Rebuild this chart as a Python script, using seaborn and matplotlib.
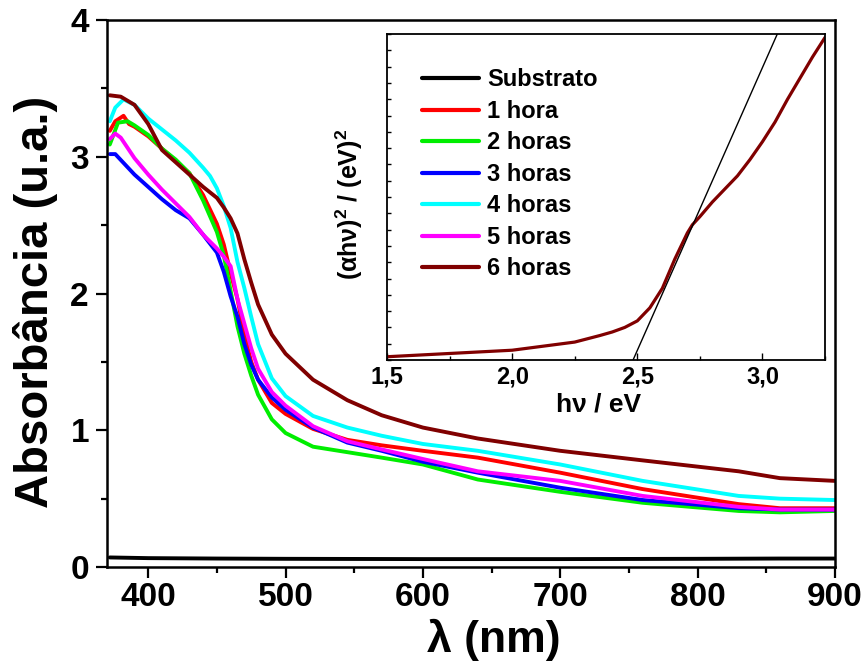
import numpy as np
import pandas as pd
import matplotlib
matplotlib.use("Agg")
import matplotlib.pyplot as plt
from matplotlib.ticker import MultipleLocator, FuncFormatter
import seaborn as sns

# ---------------- data ----------------
wl_sub = [372, 400, 450, 500, 600, 700, 800, 860, 900]
a_sub = [0.07, 0.065, 0.062, 0.06, 0.058, 0.058, 0.06, 0.062, 0.062]

wl_1h = [372, 376, 382, 386, 390, 400, 410, 420, 430, 440, 450, 455, 460, 465, 470, 475, 480, 490, 500, 520, 545, 570, 600, 640, 700, 760, 830, 860, 900]
a_1h = [3.19, 3.26, 3.30, 3.24, 3.22, 3.15, 3.06, 2.97, 2.88, 2.72, 2.51, 2.36, 2.15, 1.96, 1.70, 1.50, 1.37, 1.20, 1.12, 1.01, 0.93, 0.89, 0.85, 0.80, 0.69, 0.57, 0.46, 0.43, 0.43]

wl_2h = [372, 378, 385, 390, 400, 410, 420, 430, 440, 450, 455, 460, 465, 470, 475, 480, 490, 500, 520, 545, 570, 600, 640, 700, 760, 830, 860, 900]
a_2h = [3.09, 3.25, 3.26, 3.23, 3.16, 3.06, 2.98, 2.88, 2.68, 2.45, 2.28, 2.02, 1.76, 1.56, 1.40, 1.26, 1.08, 0.98, 0.88, 0.84, 0.80, 0.75, 0.64, 0.55, 0.47, 0.41, 0.40, 0.41]

wl_3h = [372, 376, 390, 400, 410, 420, 430, 440, 450, 455, 460, 465, 470, 475, 480, 490, 500, 520, 545, 570, 600, 640, 700, 760, 830, 860, 900]
a_3h = [3.02, 3.02, 2.87, 2.78, 2.69, 2.61, 2.55, 2.43, 2.30, 2.16, 1.98, 1.83, 1.63, 1.48, 1.37, 1.24, 1.15, 1.02, 0.91, 0.85, 0.77, 0.69, 0.58, 0.49, 0.43, 0.42, 0.42]

wl_4h = [372, 376, 382, 390, 400, 410, 420, 430, 440, 445, 450, 455, 460, 465, 470, 475, 480, 490, 500, 520, 545, 570, 600, 640, 700, 760, 830, 860, 900]
a_4h = [3.26, 3.36, 3.42, 3.38, 3.28, 3.20, 3.12, 3.03, 2.92, 2.86, 2.77, 2.64, 2.48, 2.23, 2.04, 1.83, 1.63, 1.38, 1.25, 1.105, 1.02, 0.96, 0.90, 0.85, 0.75, 0.63, 0.52, 0.50, 0.49]

wl_5h = [372, 376, 380, 390, 400, 410, 420, 430, 440, 450, 455, 460, 465, 470, 475, 480, 490, 500, 520, 545, 570, 600, 640, 700, 760, 830, 860, 900]
a_5h = [3.13, 3.17, 3.14, 2.99, 2.87, 2.76, 2.66, 2.56, 2.43, 2.33, 2.27, 2.20, 1.96, 1.78, 1.60, 1.45, 1.28, 1.18, 1.03, 0.92, 0.86, 0.79, 0.70, 0.63, 0.52, 0.44, 0.42, 0.42]

wl_6h = [372, 380, 390, 400, 410, 420, 430, 440, 450, 455, 460, 465, 470, 475, 480, 490, 500, 520, 545, 570, 600, 640, 700, 760, 830, 860, 900]
a_6h = [3.45, 3.44, 3.38, 3.24, 3.05, 2.96, 2.87, 2.78, 2.70, 2.63, 2.55, 2.44, 2.25, 2.08, 1.92, 1.70, 1.56, 1.37, 1.22, 1.11, 1.02, 0.94, 0.85, 0.78, 0.70, 0.65, 0.63]

labels = ["Substrato", "1 hora", "2 horas", "3 horas", "4 horas", "5 horas", "6 horas"]
colors = ["#000000", "#ff0000", "#00ee00", "#0000ff", "#00ffff", "#ff00ff", "#800000"]

# inset: Tauc plot for 6 horas
hv = [1.5, 1.75, 2.0, 2.25, 2.3, 2.35, 2.4, 2.45, 2.5, 2.55, 2.6, 2.65, 2.7, 2.72, 2.75, 2.8, 2.85, 2.9, 2.95, 3.0, 3.05, 3.1, 3.15, 3.2, 3.25]
tauc = [1.0, 2.0, 3.0, 5.5, 6.5, 7.5, 8.6, 10.0, 12.0, 16.0, 22.0, 31.0, 39.0, 41.5, 44.0, 48.5, 52.5, 56.5, 61.5, 67.0, 73.0, 80.0, 86.5, 93.0, 99.0]
fit_hv = [2.483, 3.059]
fit_y = [0.0, 100.0]

# ---------------- build long table ----------------
series = [(wl_sub, a_sub), (wl_1h, a_1h), (wl_2h, a_2h), (wl_3h, a_3h),
          (wl_4h, a_4h), (wl_5h, a_5h), (wl_6h, a_6h)]
frames = []
for lab, (w, a) in zip(labels, series):
    frames.append(pd.DataFrame({"wl": w, "A": a, "serie": lab}))
df = pd.concat(frames, ignore_index=True)

sns.set_theme(style="ticks")
plt.rcParams["font.family"] = ["Liberation Sans", "DejaVu Sans"]
plt.rcParams["font.weight"] = "bold"
plt.rcParams["axes.labelweight"] = "bold"
for k in ["text.color", "axes.labelcolor", "xtick.color", "ytick.color", "axes.edgecolor"]:
    plt.rcParams[k] = "black"
plt.rcParams["mathtext.fontset"] = "custom"
plt.rcParams["mathtext.rm"] = "Liberation Sans:bold"
plt.rcParams["mathtext.bf"] = "Liberation Sans:bold"

fig = plt.figure(figsize=(8.66, 6.70), dpi=100)
ax = fig.add_axes([0.1236, 0.1537, 0.8404, 0.8163])

sns.lineplot(data=df, x="wl", y="A", hue="serie", hue_order=labels,
             palette=dict(zip(labels, colors)), sort=False, estimator=None,
             linewidth=2.8, legend=False, ax=ax)

ax.set_xlim(370, 900)
ax.set_ylim(0, 4)
ax.xaxis.set_major_locator(MultipleLocator(100))
ax.xaxis.set_minor_locator(MultipleLocator(50))
ax.yaxis.set_major_locator(MultipleLocator(1))
ax.yaxis.set_minor_locator(MultipleLocator(0.5))
ax.tick_params(which="both", direction="out", width=1.6, top=False, right=False)
ax.tick_params(which="major", length=8, labelsize=24, pad=3)
ax.tick_params(axis="y", which="major", pad=5)
ax.tick_params(which="minor", length=4)
for lab in ax.get_xticklabels() + ax.get_yticklabels():
    lab.set_fontweight("bold")
for s in ax.spines.values():
    s.set_linewidth(1.8)
    s.set_visible(True)
ax.set_xlabel("λ (nm)", fontsize=32, fontweight="bold")
ax.set_ylabel("Absorbância (u.a.)", fontsize=34, fontweight="bold")
ax.xaxis.set_label_coords(0.532, -0.094)
ax.yaxis.set_label_coords(-0.068, 0.485)

# ---------------- inset ----------------
ins = fig.add_axes([0.4469, 0.4627, 0.5058, 0.4863])
sns.lineplot(x=hv, y=tauc, color="#800000", linewidth=2.3, sort=False, ax=ins)
sns.lineplot(x=fit_hv, y=fit_y, color="black", linewidth=1.0, sort=False, ax=ins)
ins.set_xlim(1.5, 3.25)
ins.set_ylim(0, 100)
ins.xaxis.set_major_locator(MultipleLocator(0.5))
ins.xaxis.set_minor_locator(MultipleLocator(0.25))
ins.yaxis.set_major_locator(MultipleLocator(10))
ins.yaxis.set_minor_locator(MultipleLocator(5))
ins.xaxis.set_major_formatter(FuncFormatter(lambda v, p: f"{v:.1f}".replace(".", ",")))
ins.tick_params(which="both", direction="in", width=1.0, top=False, right=False)
ins.tick_params(which="major", length=5, labelsize=17, pad=4)
ins.tick_params(which="minor", length=3)
ins.tick_params(axis="y", which="both", labelleft=False, length=3)
for lab in ins.get_xticklabels():
    lab.set_fontweight("bold")
for s in ins.spines.values():
    s.set_linewidth(1.3)
    s.set_visible(True)
ins.set_xlabel("hν / eV", fontsize=19, fontweight="bold")
ins.set_ylabel(r"(αhν)$^{2}$ / (eV)$^{2}$", fontsize=18, fontweight="bold")
ins.xaxis.set_label_coords(0.482, -0.10)
ins.yaxis.set_label_coords(-0.05, 0.478)

handles = ax.get_lines()[:len(labels)]
leg = ins.legend(handles, labels, loc="upper left", bbox_to_anchor=(0.08, 0.895),
                 frameon=False, fontsize=17, handlelength=2.4, handletextpad=0.35,
                 labelspacing=0.36, borderaxespad=0, borderpad=0)
for t in leg.get_texts():
    t.set_fontweight("bold")
for h in leg.get_lines():
    h.set_linewidth(3.0)

fig.savefig("out.png", dpi=100)
